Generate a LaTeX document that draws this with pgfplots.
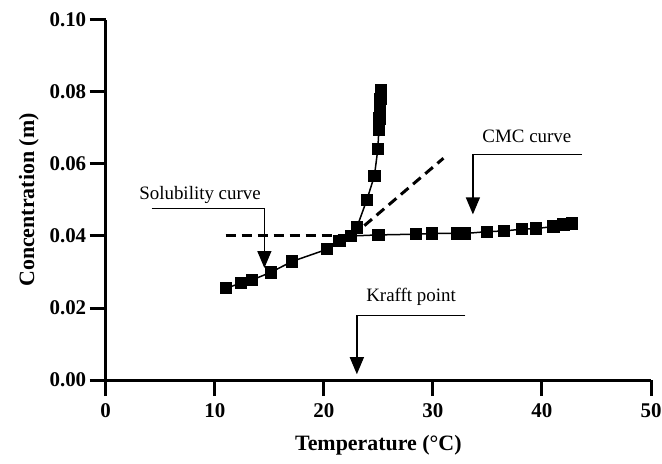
\documentclass[border=0pt]{standalone}
\usepackage{pgfplots}
\pgfplotsset{compat=1.18}
\usepackage{fontspec}
\setmainfont{Liberation Serif}
\usetikzlibrary{arrows.meta}

\begin{document}
\begin{tikzpicture}
\begin{axis}[
  scale only axis,
  width=545.3bp, height=360bp,
  xmin=0, xmax=50, ymin=0, ymax=0.1,
  xtick={0,10,20,30,40,50},
  ytick={0,0.02,0.04,0.06,0.08,0.1},
  axis x line*=bottom, axis y line*=left,
  axis line style={line width=3bp},
  every tick/.style={line width=3bp, black},
  tick align=outside,
  major tick length=16bp,
  scaled y ticks=false,
  /pgf/number format/assume math mode=true,
  yticklabel style={/pgf/number format/.cd, fixed, fixed zerofill, precision=2},
  xticklabel style={yshift=-4bp},
  tick label style={font=\bfseries\fontsize{21}{21}\selectfont},
  xlabel={Temperature (°C)},
  ylabel={Concentration (m)},
  every axis x label/.style={at={(axis description cs:0.5,-0.181)}, anchor=center, font=\bfseries\fontsize{22}{22}\selectfont},
  every axis y label/.style={at={(axis description cs:-0.141,0.5)}, rotate=90, anchor=center, font=\bfseries\fontsize{22}{22}\selectfont},
  clip=false,
]
% dashed guide lines
\addplot[black, line width=3bp, dash pattern=on 10bp off 6bp] coordinates {
  (11.0,0.040) (22.6,0.040)
};
\addplot[black, line width=3bp, dash pattern=on 10bp off 6bp] coordinates {
  (22.6,0.040) (30.97,0.0616)
};
% solubility branch
\addplot[black, line width=1.5bp, mark=square*, mark size=5.4bp, mark options={solid, fill=black}] coordinates {
  (11.04,0.0255) (12.41,0.0269) (13.42,0.0278) (15.14,0.0299) (17.06,0.0329)
  (20.28,0.0363) (21.43,0.0387) (22.48,0.0400) (23.03,0.0424) (23.94,0.0500)
  (24.64,0.0567) (24.95,0.0641) (25.05,0.0696) (25.08,0.0715) (25.10,0.0726)
  (25.18,0.0761) (25.20,0.0780) (25.22,0.0795) (25.23,0.0804)
};
% CMC branch
\addplot[black, line width=1.5bp, mark=square*, mark size=5.4bp, mark options={solid, fill=black}] coordinates {
  (22.48,0.0400) (25.00,0.0403) (28.44,0.0405) (29.91,0.0407) (32.20,0.0407)
  (32.94,0.0407) (34.95,0.0412) (36.54,0.0414) (38.17,0.0419) (39.48,0.0421)
  (41.06,0.0426) (41.98,0.0432) (42.75,0.0435)
};
% annotations
\draw[line width=1.3bp, -{Triangle[width=14bp,length=17bp]}]
  (axis cs:4.22,0.0477) -- (axis cs:14.55,0.0477) -- (axis cs:14.55,0.0311);
\node[font=\fontsize{19}{19}\selectfont] at (axis cs:8.65,0.0514) {Solubility curve};
\draw[line width=1.3bp, -{Triangle[width=14bp,length=17bp]}]
  (axis cs:43.67,0.0626) -- (axis cs:33.67,0.0626) -- (axis cs:33.67,0.0460);
\node[font=\fontsize{19}{19}\selectfont] at (axis cs:38.62,0.0676) {CMC curve};
\draw[line width=1.3bp, -{Triangle[width=14bp,length=17bp]}]
  (axis cs:32.99,0.0180) -- (axis cs:23.03,0.0180) -- (axis cs:23.03,0.0016);
\node[font=\fontsize{19}{19}\selectfont] at (axis cs:28.0,0.0231) {Krafft point};
\coordinate (SW) at (rel axis cs:0,0);
\coordinate (NE) at (rel axis cs:1,1);
\end{axis}
\pgfresetboundingbox
\path[use as bounding box] ([shift={(-105.7bp,-84bp)}]SW) rectangle ([shift={(11bp,20bp)}]NE);
\end{tikzpicture}
\end{document}
